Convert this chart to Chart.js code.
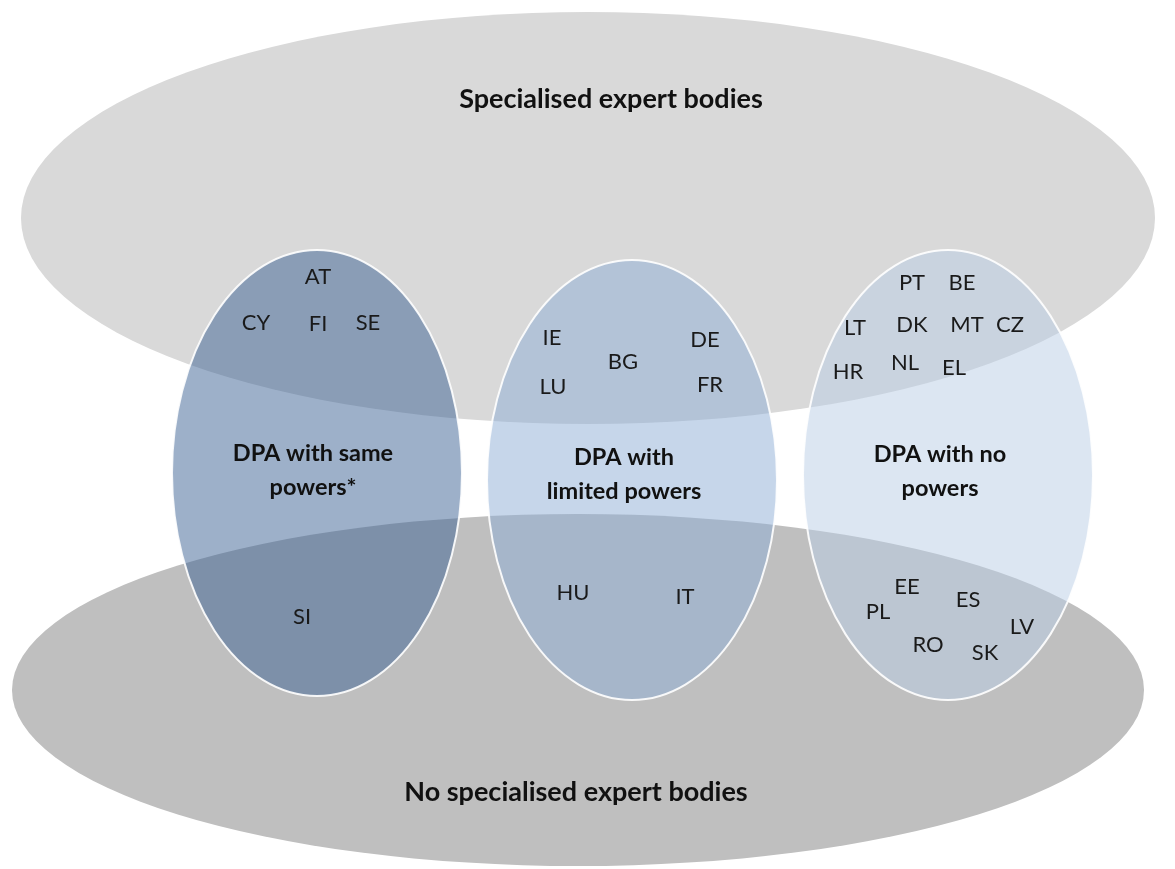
<!DOCTYPE html>
<html>
<head>
<meta charset="utf-8">
<script src="https://cdn.jsdelivr.net/npm/chart.js@4/dist/chart.umd.min.js"></script>
<style>
  html, body { margin: 0; padding: 0; background: #ffffff; }
  #wrap { width: 1175px; height: 869px; }
</style>
</head>
<body>
<div id="wrap"><canvas id="c" width="1175" height="869"></canvas></div>
<script>
// ---- Sets (ellipses) in diagram units ----
const setNames = ['Specialised expert bodies', 'No specialised expert bodies',
                  'DPA with same powers*', 'DPA with limited powers', 'DPA with no powers'];
const setCenterX = [588, 578, 317, 632, 948];
const setCenterY = [218, 690, 473, 480, 475];
const setRadiusX = [567, 566, 145, 145, 145];
const setRadiusY = [206, 176, 223, 220, 225];

// ---- Set labels (lines) ----
const labelLines = [['Specialised expert bodies'], ['No specialised expert bodies'],
                    ['DPA with same', 'powers*'], ['DPA with', 'limited powers'], ['DPA with no', 'powers']];
const labelX = [611, 576, 313, 624, 940];
const labelY = [99, 792, 470, 474, 471];

// ---- Member states ----
const countryCodes = ['AT','CY','FI','SE','SI',
                      'IE','BG','DE','LU','FR','HU','IT',
                      'PT','BE','LT','DK','MT','CZ','HR','NL','EL','EE','ES','PL','LV','RO','SK'];
const countryX = [318,256,318,368,302,
                  552,623,705,553,710,573,685,
                  912,962,855,912,967,1010,848,905,954,907,968,878,1022,928,985];
const countryY = [277,323,324,323,617,
                  338,362,340,387,385,593,597,
                  283,283,328,325,325,325,372,363,368,587,600,612,627,645,653];

// styles
const setFills = ['#d9d9d9', '#bfbfbf', 'rgba(59,97,147,0.5)', 'rgba(141,173,213,0.5)', 'rgba(185,205,229,0.5)'];
const setStroke = [null, null, 'rgba(255,255,255,0.9)', 'rgba(255,255,255,0.9)', 'rgba(255,255,255,0.9)'];

const ellipsePlugin = {
  id: 'ellipses',
  beforeDatasetsDraw(chart) {
    const {ctx, scales: {x, y}} = chart;
    for (let i = 0; i < setNames.length; i++) {
      const cx = x.getPixelForValue(setCenterX[i]);
      const cy = y.getPixelForValue(setCenterY[i]);
      const rx = Math.abs(x.getPixelForValue(setCenterX[i] + setRadiusX[i]) - cx);
      const ry = Math.abs(y.getPixelForValue(setCenterY[i] + setRadiusY[i]) - cy);
      ctx.save();
      ctx.beginPath();
      ctx.ellipse(cx, cy, rx, ry, 0, 0, Math.PI * 2);
      ctx.fillStyle = setFills[i];
      ctx.fill();
      if (setStroke[i]) {
        ctx.lineWidth = 2;
        ctx.strokeStyle = setStroke[i];
        ctx.stroke();
      }
      ctx.restore();
    }
  },
  afterDatasetsDraw(chart) {
    const {ctx} = chart;
    ctx.save();
    ctx.textAlign = 'center';
    ctx.textBaseline = 'middle';
    ctx.fillStyle = '#111111';
    // set labels
    const metaL = chart.getDatasetMeta(0);
    metaL.data.forEach((pt, i) => {
      const lines = labelLines[i];
      const big = i < 2;
      ctx.font = (big ? 'bold 27px' : 'bold 23.5px') + ' Lato, "Open Sans", sans-serif';
      const lh = 34;
      lines.forEach((ln, k) => {
        ctx.fillText(ln, pt.x, pt.y + (k - (lines.length - 1) / 2) * lh);
      });
    });
    // country codes
    ctx.font = '22px Lato, "Open Sans", sans-serif';
    ctx.fillStyle = '#1a1a1a';
    const metaC = chart.getDatasetMeta(1);
    metaC.data.forEach((pt, i) => {
      ctx.fillText(countryCodes[i], pt.x, pt.y);
    });
    ctx.restore();
  }
};

new Chart(document.getElementById('c'), {
  type: 'scatter',
  data: {
    datasets: [
      { label: 'Set labels', data: labelX.map((v, i) => ({x: v, y: labelY[i]})), pointRadius: 0 },
      { label: 'Member states', data: countryX.map((v, i) => ({x: v, y: countryY[i]})), pointRadius: 0 }
    ]
  },
  options: {
    responsive: false,
    animation: false,
    events: [],
    layout: { padding: 0 },
    scales: {
      x: { type: 'linear', min: 0, max: 1175, display: false },
      y: { type: 'linear', min: 0, max: 869, reverse: true, display: false }
    },
    plugins: { legend: { display: false }, tooltip: { enabled: false } }
  },
  plugins: [ellipsePlugin]
});
</script>
</body>
</html>
